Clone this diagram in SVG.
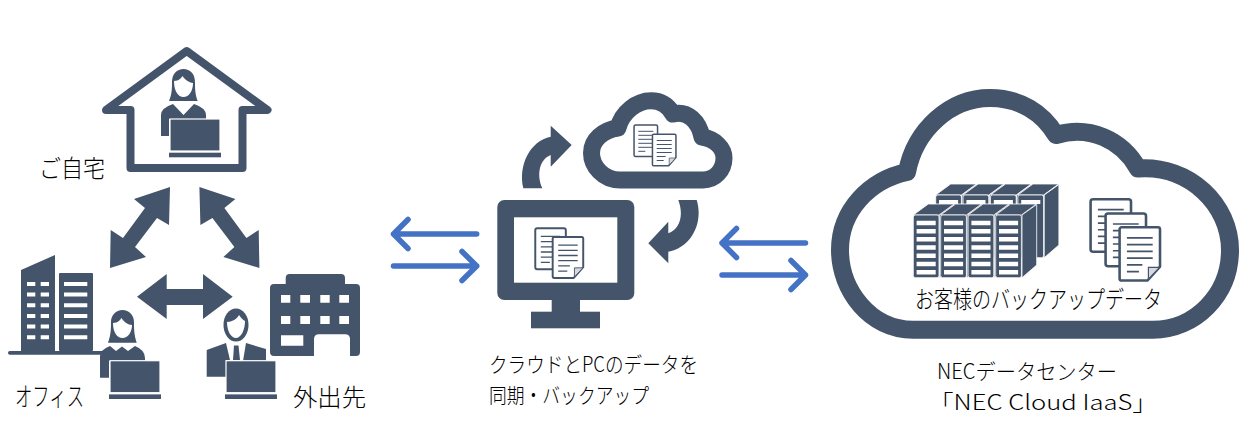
<svg xmlns="http://www.w3.org/2000/svg" width="1251" height="431" viewBox="0 0 1251 431">
<style>
.d{fill:#44546A}
.w{fill:#fff}
.o{fill:none;stroke:#44546A;stroke-linejoin:round}
.b{fill:none;stroke:#4472C4;stroke-width:5.5;stroke-linecap:round;stroke-linejoin:round}
.t{font-family:"Noto Sans CJK JP","Liberation Sans",sans-serif;font-weight:300;font-size:24px;fill:#000}
.s{font-size:21px}
.l{stroke:#44546A;stroke-width:1}
.u{stroke:#fff;stroke-width:.8}
</style>
<defs>
<g id="doc-plain">
<rect x=".75" y=".75" width="23.5" height="31.5" rx="1.5" fill="#fff" stroke="#44546A" stroke-width="1.5"/>
<path class="l" d="M5 7H20M5 11H20M5 15H20M5 19H20M5 23H20M5 27H12"/>
</g>
<g id="doc-fold">
<path d="M2 .75H23A1.25 1.25 0 0 1 24.25 2V24L17 32.25H2A1.25 1.25 0 0 1 .75 31V2A1.25 1.25 0 0 1 2 .75Z" fill="#fff" stroke="#44546A" stroke-width="1.5" stroke-linejoin="round"/>
<path d="M24 24.5H17.5V31.5Z" fill="#D6DAE0" stroke="#44546A" stroke-width=".7"/>
<path class="l" d="M5 7H20M5 11H20M5 15H20M5 19H20M5 23H14M5 27H12"/>
</g>
<g id="unit">
<polygon class="d u" points="0,0 15,-11 40.7,-11 25.7,0"/>
<polygon class="d u" points="26.3,0 41,-10.5 41,50 26.3,62.7"/>
<rect class="d u" x="0" y="0" width="25.7" height="62.7" rx="2"/>
<path class="w" d="M3.3 5.7h19.1v4.5h-19.1zM3.3 13.9h19.1v4.5h-19.1zM3.3 22.1h19.1v4.5h-19.1zM3.3 30.3h19.1v4.5h-19.1zM3.3 38.5h19.1v4.5h-19.1zM3.3 46.7h19.1v4.5h-19.1zM3.3 54.9h19.1v4.5h-19.1z"/>
</g>
<g id="unit-back">
<polygon class="d u" points="0,0 15,-11 40.7,-11 25.7,0"/>
<polygon class="d u" points="26.3,0 41,-10.5 41,50 26.3,62.7"/>
<rect class="d u" x="0" y="0" width="25.7" height="62.7" rx="2"/>
<path class="w" d="M3.3 5h19.1v4h-19.1z"/>
</g>
<g id="laptop">
<rect class="d" x="0" y="0" width="50" height="32" stroke="#fff" stroke-width="1.2"/>
<rect class="d" x="-1" y="33.7" width="52" height="4.6"/>
</g>
</defs>

<g id="connectors">
<polygon class="d" points="170,187 169,225 157,218 135,247 146,257 110,268 110.7,230 123,238 145,208 134,199"/>
<polygon class="d" points="199.4,187 200.4,225 212.4,218 234.4,247 223.4,257 259.4,268 258.7,230 246.4,238 224.4,208 235.4,199"/>
<polygon class="d" points="137,296.7 166.7,274 166.7,289 203,289 203,274 232.7,296.7 203,319 203,305 166.7,305 166.7,319"/>
<path class="d" d="M523.3 188.3C518 165 530 141 550.7 136.7V125.7L571.7 145L550.7 166.7V155C540 159 536 174 542.3 188.3Z"/>
<path class="d" d="M678.3 200C684 215 680 229 668.3 233.3V221.7L648.3 243.3L668.3 263.3V251.7C690 248 704 224 696.7 200Z"/>
<path class="b" d="M476.7 234H393.5M408 219.5L393.5 234L408 248.5"/>
<path class="b" d="M393.5 266H476.7M462 251.5L476.7 266L462 280.5"/>
<path class="b" d="M805.5 243H722M736.5 228.5L722 243L736.5 257.5"/>
<path class="b" d="M722 275H805.5M791 260.5L805.5 275L791 289.5"/>
</g>

<g id="home">
<path class="o" stroke-width="8" d="M130.5 168V110H106L186.7 51L267.5 110H242.5V168Z"/>
<path class="d" d="M169 101C172 94 172 88 172 82C172 74 177 69 183.5 69C190 69 195 74 195 82C195 88 195 94 197.7 101Z"/>
<path class="w" d="M174 81C179 81 181 78 182.5 76C185 80 190 83 193 83C193 91 189 97 183.5 97C178 97 174 91 174 81Z"/>
<path class="d" d="M161 136V115Q161 108 173 104L183.5 115L194 104Q206 108 206 115V119H169V136Z"/>
<use href="#laptop" x="170" y="119"/>
<text class="t" x="39" y="177" textLength="66" lengthAdjust="spacingAndGlyphs">ご自宅</text>
</g>

<g id="office">
<rect class="d" x="8" y="351" width="96" height="3.7" rx="1.8"/>
<polygon class="d" points="21,270 55,255 55,351 21,351"/>
<rect class="d" x="59" y="273" width="34" height="78" rx="1"/>
<path class="w" d="M27 282h8.3v4h-8.3zM40.7 282h8.3v4h-8.3zM27 292.6h8.3v4h-8.3zM40.7 292.6h8.3v4h-8.3zM27 303.3h8.3v4h-8.3zM40.7 303.3h8.3v4h-8.3zM27 314h8.3v4h-8.3zM40.7 314h8.3v4h-8.3zM27 324.6h8.3v4h-8.3zM40.7 324.6h8.3v4h-8.3zM27 335.3h8.3v4h-8.3zM40.7 335.3h8.3v4h-8.3z"/>
<path class="w" d="M64 282h23.3v4h-23.3zM64 292.6h23.3v4h-23.3zM64 303.3h23.3v4h-23.3zM64 314h23.3v4h-23.3zM64 324.6h23.3v4h-23.3zM64 335.3h23.3v4h-23.3z"/>
<path class="d" d="M108 342.7C111 335 111 328 111 322C111 315 116 310 122.5 310C129 310 134 315 134 322C134 328 134 335 136.7 342.7Z"/>
<path class="w" d="M113 323C118 323 120 320 121.5 318C124 322 128 325 132 325C132 332 128 338 122.5 338C117 338 113 332 113 323Z"/>
<path class="d" d="M100 377.7V356Q100 350 110 346L116 351L122 346.500L128 351L135 346Q145 350 145 358V361H109V377.7Z"/>
<use href="#laptop" x="110" y="360.700"/>
<text class="t" x="15" y="406" textLength="69" lengthAdjust="spacingAndGlyphs" style="font-size:26px">オフィス</text>
</g>

<g id="outside">
<ellipse class="d" cx="236" cy="325" rx="12.500" ry="16.500"/>
<path class="w" d="M227 322C232 322 237 319 239 315C241 318 243 320 245 321C245 330 241 338 236 338C231 338 227 331 227 322Z"/>
<path class="d" d="M206.700 376.700V350L226 343L230 360H226V376.700Z"/>
<path class="d" d="M234 345.500H238.500L240 360H233Z"/>
<path class="d" d="M246 343L266 349V361H243Z"/>
<use href="#laptop" x="226" y="360.700"/>
<path class="d" d="M285.700 284V278Q285.700 274 289.700 274H341Q345 274 345 278V284H356Q360 284 360 288V352Q360 356 356 356H274Q270 356 270 352V288Q270 284 274 284Z"/>
<path class="w" d="M281 295h9.300v7.700h-9.300zM300.300 295h9.700v7.700h-9.700zM320.300 295h9.400v7.700h-9.400zM339.300 295h9.700v7.700h-9.700zM281 316h9.300v8h-9.300zM300.300 316h9.700v8h-9.700zM320.300 316h9.400v8h-9.400zM339.300 316h9.700v8h-9.700zM281 335.300h22.300v10.400h-22.300z"/>
<path class="w" d="M314 356V339Q314 334.300 319 334.300H345Q350 334.300 350 339V356Z"/>
<text class="t" x="293" y="406" textLength="73" lengthAdjust="spacingAndGlyphs">外出先</text>
</g>

<g id="pc">
<rect class="d" x="497.300" y="200" width="137" height="100" rx="7"/>
<rect class="w" x="514" y="217.300" width="103.300" height="65.400"/>
<rect class="d" x="551.700" y="299" width="28.300" height="13"/>
<rect class="d" x="531" y="311.700" width="69" height="16.600"/>
<use href="#doc-plain" transform="translate(534.300 227.300) scale(1.300)"/>
<use href="#doc-fold" transform="translate(551.700 236) scale(1.300)"/>
<text class="t s" x="489" y="372" textLength="209" lengthAdjust="spacingAndGlyphs">クラウドとPCのデータを</text>
<text class="t s" x="489" y="403" textLength="160" lengthAdjust="spacingAndGlyphs">同期・バックアップ</text>
</g>

<g id="sync-cloud">
<path class="o" stroke-width="17" d="M703 180H620C603 180 591.500 166 591.500 153C591.500 140 603 130 618 128C622 112 637 100.700 651 100.700C660 100.700 668 105 673 114C688 110 699 122 702 137C715 139 724 148 724 158C724 170 715 180 703 180Z"/>
<use href="#doc-plain" x="633.300" y="124.300"/>
<use href="#doc-fold" x="651.700" y="133.500"/>
</g>

<g id="datacenter">
<path class="o" stroke-width="18" d="M1153 329.700H913C870 329.700 840 290 840 250C840 210 870 180 907 172C915 130 950 98 990 98C1020 98 1043 113 1056 135C1090 125 1122 140 1138 168.500C1190 165 1230 205 1230 250C1230 295 1195 329.700 1153 329.700Z"/>
<use href="#unit-back" x="935.700" y="195"/>
<use href="#unit-back" x="963.100" y="195"/>
<use href="#unit-back" x="990.500" y="195"/>
<use href="#unit-back" x="1017.900" y="195"/>
<use href="#unit" x="913.300" y="215"/>
<use href="#unit" x="940.700" y="215"/>
<use href="#unit" x="968.100" y="215"/>
<use href="#unit" x="995.700" y="215"/>
<use href="#doc-plain" transform="translate(1089.300 198) scale(1.720 1.670)"/>
<use href="#doc-plain" transform="translate(1104.300 212.300) scale(1.720 1.670)"/>
<use href="#doc-fold" transform="translate(1118.300 226) scale(1.720 1.690)"/>
<text class="t" x="915" y="308" textLength="247" lengthAdjust="spacingAndGlyphs">お客様のバックアップデータ</text>
<text class="t s" x="937" y="379" textLength="180" lengthAdjust="spacingAndGlyphs">NECデータセンター</text>
<text class="t s" x="928" y="410" textLength="230" lengthAdjust="spacingAndGlyphs">「NEC Cloud IaaS」</text>
</g>
</svg>
